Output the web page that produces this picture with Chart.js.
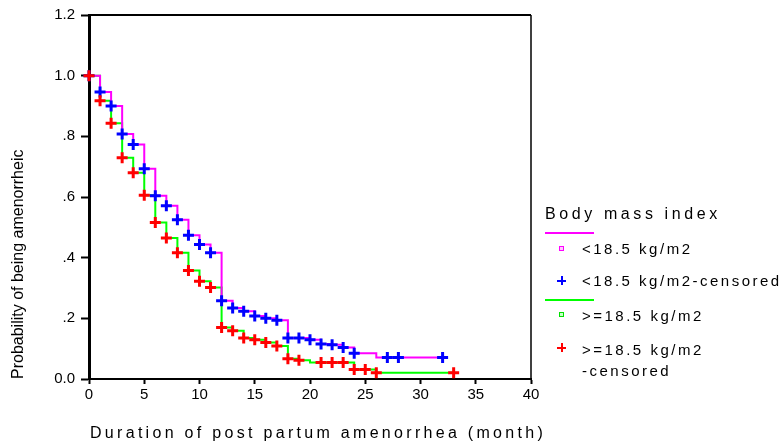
<!DOCTYPE html>
<html>
<head>
<meta charset="utf-8">
<script src="https://cdn.jsdelivr.net/npm/chart.js@4.4.1/dist/chart.umd.min.js"></script>
<style>
body { margin: 0; background: #fff; }
#wrap { position: relative; width: 783px; height: 444px; font-family: 'Liberation Sans', Arial, sans-serif; color: #000; }
#chart { position: absolute; left: 0; top: 0; }
.t { position: absolute; white-space: nowrap; line-height: 16px; }
.lg { font-size: 15px; letter-spacing: 2.5px; }
.ln { position: absolute; height: 2px; width: 49px; left: 545px; }
.sq { position: absolute; width: 3px; height: 3px; left: 559px; }
.cx { position: absolute; }
</style>
</head>
<body>
<div id="wrap">
  <canvas id="chart" width="783" height="444"></canvas>
  <div class="t" style="left:90px;top:425px;font-size:16px;letter-spacing:3.3px;">Duration of post partum amenorrhea (month)</div>

  <div class="t" style="left:545px;top:206px;font-size:16px;letter-spacing:3.6px;">Body mass index</div>
  <div class="ln" style="top:232px;background:#ff00ff;"></div>
  <div class="sq" style="top:246px;border:1px solid #ff00ff;background:#ffc8ff;"></div>
  <div class="t lg" style="left:582px;top:241px;">&lt;18.5 kg/m2</div>
  <div class="cx" style="left:557px;top:280px;width:9px;height:2px;background:#0000ff;"></div>
  <div class="cx" style="left:561px;top:276px;width:2px;height:9px;background:#0000ff;"></div>
  <div class="t lg" style="left:582px;top:273px;">&lt;18.5 kg/m2-censored</div>
  <div class="ln" style="top:299px;background:#00ff00;"></div>
  <div class="sq" style="top:312px;border:1px solid #00e000;background:#c8ffc8;"></div>
  <div class="t lg" style="left:582px;top:308px;">&gt;=18.5 kg/m2</div>
  <div class="cx" style="left:557px;top:347px;width:9px;height:2px;background:#ff0000;"></div>
  <div class="cx" style="left:561px;top:343px;width:2px;height:9px;background:#ff0000;"></div>
  <div class="t lg" style="left:582px;top:342px;">&gt;=18.5 kg/m2</div>
  <div class="t lg" style="left:582px;top:363px;">-censored</div>
</div>
<script>
// survival curve <18.5 kg/m2 (drop times and level after the drop)
var lowTimes = [0, 1, 2, 3, 4, 5, 6, 7, 8, 9, 10, 11, 12, 13, 14, 15, 16, 17, 18, 19, 20, 21, 22, 23, 24, 26, 32];
var lowSurv = [1.000, 0.946, 0.900, 0.808, 0.773, 0.693, 0.604, 0.571, 0.525, 0.474, 0.443, 0.416, 0.258, 0.234, 0.223, 0.208, 0.200, 0.194, 0.135, 0.135, 0.129, 0.115, 0.113, 0.104, 0.085, 0.071, 0.071];
var lowCensored = [0, 1, 2, 3, 4, 5, 6, 7, 8, 9, 10, 11, 12, 13, 14, 15, 16, 17, 18, 19, 20, 21, 22, 23, 24, 27, 28, 32];

// survival curve >=18.5 kg/m2
var highTimes = [0, 1, 2, 3, 4, 5, 6, 7, 8, 9, 10, 11, 12, 13, 14, 15, 16, 17, 18, 19, 20, 24, 26, 33];
var highSurv = [1.000, 0.917, 0.843, 0.729, 0.680, 0.606, 0.516, 0.465, 0.416, 0.358, 0.322, 0.302, 0.170, 0.159, 0.135, 0.129, 0.120, 0.109, 0.067, 0.062, 0.054, 0.031, 0.021, 0.021];
var highCensored = [0, 1, 2, 3, 4, 5, 6, 7, 8, 9, 10, 11, 12, 13, 14, 15, 16, 17, 18, 19, 21, 22, 23, 24, 25, 26, 33];

var yTicks = [0, 0.2, 0.4, 0.6, 0.8, 1.0, 1.2];
var yTickLabels = ['0.0', '.2', '.4', '.6', '.8', '1.0', '1.2'];

// level of a step curve at time t
var levelAt = function(times, surv, t) {
    var v = surv[0];
    for (var i = 0; i < times.length; i++) {
        if (times[i] <= t) v = surv[i];
    }
    return v;
};

var curve = function(times, surv) {
    return times.map(function(t, i) { return {x: t, y: surv[i]}; });
};

var marks = function(cens, times, surv) {
    return cens.map(function(t) { return {x: t, y: levelAt(times, surv, t)}; });
};

// frame: top and right edges of the plot box
var boxPlugin = {
    id: 'box',
    afterDraw: function(chart) {
        var a = chart.chartArea, ctx = chart.ctx;
        ctx.save();
        ctx.strokeStyle = '#000';
        ctx.lineWidth = 2;
        ctx.beginPath();
        ctx.moveTo(a.left, a.top);
        ctx.lineTo(a.right, a.top);
        ctx.stroke();
        ctx.lineWidth = 1.5;
        ctx.beginPath();
        ctx.moveTo(a.right, a.top);
        ctx.lineTo(a.right, a.bottom);
        ctx.stroke();
        ctx.restore();
    }
};

var config = {
    type: 'line',
    data: {
        datasets: [{
            label: '>=18.5 kg/m2-censored',
            data: marks(highCensored, highTimes, highSurv),
            showLine: false,
            clip: false,
            pointStyle: 'cross',
            pointRadius: 5.5,
            pointBorderWidth: 3,
            borderColor: '#ff0000',
            backgroundColor: '#ff0000'
        }, {
            label: '<18.5 kg/m2-censored',
            data: marks(lowCensored, lowTimes, lowSurv),
            showLine: false,
            clip: false,
            pointStyle: 'cross',
            pointRadius: 5.5,
            pointBorderWidth: 3,
            borderColor: '#0000ff',
            backgroundColor: '#0000ff'
        }, {
            label: '<18.5 kg/m2',
            data: curve(lowTimes, lowSurv),
            stepped: true,
            borderColor: '#ff00ff',
            borderWidth: 2,
            pointRadius: 0,
            fill: false
        }, {
            label: '>=18.5 kg/m2',
            data: curve(highTimes, highSurv),
            stepped: true,
            borderColor: '#00ff00',
            borderWidth: 2,
            pointRadius: 0,
            fill: false
        }]
    },
    options: {
        responsive: false,
        animation: false,
        layout: {
            padding: {left: 0, top: 15, right: 252, bottom: 0}
        },
        plugins: {
            legend: {display: false},
            tooltip: {enabled: false}
        },
        scales: {
            x: {
                type: 'linear',
                min: 0,
                max: 40,
                afterFit: function(s) { s.height = 65; },
                ticks: {
                    stepSize: 5,
                    padding: 2,
                    color: '#000',
                    font: {family: "'Liberation Sans', Arial", size: 15}
                },
                grid: {drawOnChartArea: false, tickLength: 5, tickColor: '#000', tickWidth: 2},
                border: {display: true, color: '#000', width: 2}
            },
            y: {
                type: 'linear',
                min: 0,
                max: 1.2,
                afterFit: function(s) { s.width = 89; },
                afterBuildTicks: function(s) {
                    s.ticks = yTicks.map(function(v) { return {value: v}; });
                },
                ticks: {
                    padding: 6,
                    color: '#000',
                    font: {family: "'Liberation Sans', Arial", size: 15},
                    callback: function(v) {
                        var i = yTicks.findIndex(function(t) { return Math.abs(t - v) < 1e-6; });
                        return i >= 0 ? yTickLabels[i] : '';
                    }
                },
                grid: {drawOnChartArea: false, tickLength: 8, tickColor: '#000', tickWidth: 2},
                border: {display: true, color: '#000', width: 3},
                title: {
                    display: true,
                    text: 'Probability of being amenorrheic',
                    align: 'start',
                    color: '#000',
                    padding: {top: 9, bottom: 0},
                    font: {family: "'Liberation Sans', Arial", size: 16}
                }
            }
        }
    },
    plugins: [boxPlugin]
};

window.onload = function() {
    var ctx = document.getElementById('chart').getContext('2d');
    window.myChart = new Chart(ctx, config);
};
</script>
</body>
</html>
